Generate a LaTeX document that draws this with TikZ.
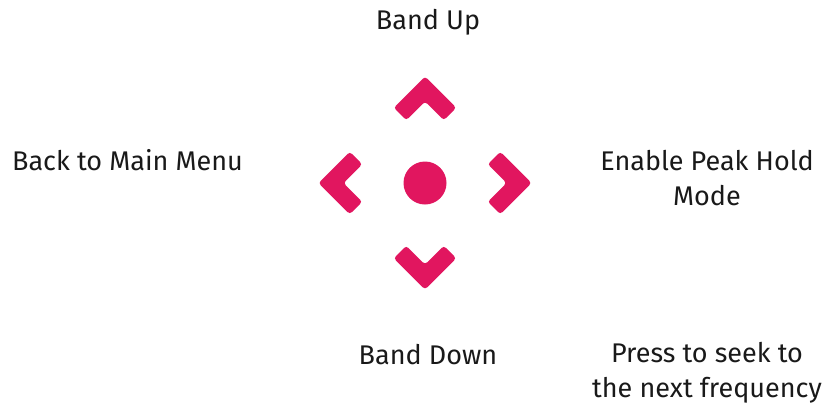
\documentclass[tikz,border=0pt]{standalone}
\usepackage{fontspec}
\setmainfont{Fira Sans}
\definecolor{btnpink}{RGB}{225,22,95}
\begin{document}
\begin{tikzpicture}[x=1pt,y=-1pt,
  chev/.style={fill=btnpink,draw=none,rounded corners=3pt},
  lbl/.style={font=\fontsize{27}{35.5}\selectfont,align=center,text=black!90,inner sep=0pt}]
\useasboundingbox (0,0) rectangle (825,410);
\foreach \r/\n in {0/up,90/left,180/down,270/right}{
  \begin{scope}[shift={(425,183)},rotate=\r]
    \fill[chev] (0,-106.5) -- (31.25,-75.25) -- (18.75,-62.75) -- (0,-81.5) -- (-18.75,-62.75) -- (-31.25,-75.25) -- cycle;
  \end{scope}
}
\node[circle,fill=btnpink,minimum size=43pt,inner sep=0pt] (ok) at (425,183) {};
\node[lbl] (bup) at (428,22) {Band Up};
\node[lbl] (back) at (127.5,160) {Back to Main Menu};
\node[lbl] (peak) at (707,178) {Enable Peak Hold\\Mode};
\node[lbl] (bdown) at (428,355) {Band Down};
\node[lbl] (seek) at (707,372.5) {Press to seek to\\the next frequency};
\end{tikzpicture}
\end{document}
